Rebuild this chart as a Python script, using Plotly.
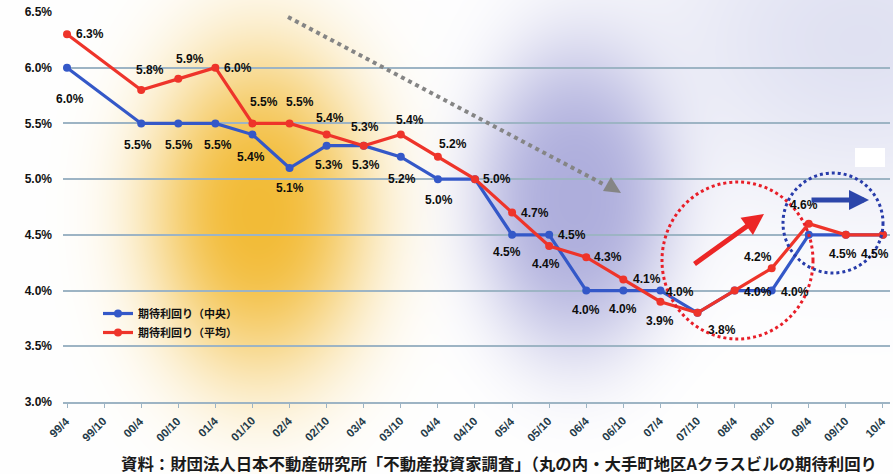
import base64
import struct
import zlib

import numpy as np
import plotly.graph_objects as go

# ---- data -----------------------------------------------------------------
periods = ["99/4", "99/10", "00/4", "00/10", "01/4", "01/10", "02/4", "02/10",
           "03/4", "03/10", "04/4", "04/10", "05/4", "05/10", "06/4", "06/10",
           "07/4", "07/10", "08/4", "08/10", "09/4", "09/10", "10/4"]

# expected yield (median), %
yield_median = [6.0, None, 5.5, 5.5, 5.5, 5.4, 5.1, 5.3, 5.3, 5.2, 5.0, 5.0,
                4.5, 4.5, 4.0, 4.0, 4.0, 3.8, 4.0, 4.0, 4.5, 4.5, 4.5]
# expected yield (mean), %
yield_mean = [6.3, None, 5.8, 5.9, 6.0, 5.5, 5.5, 5.4, 5.3, 5.4, 5.2, 5.0,
              4.7, 4.4, 4.3, 4.1, 3.9, 3.8, 4.0, 4.2, 4.6, 4.5, 4.5]

y_ticks = [3.0, 3.5, 4.0, 4.5, 5.0, 5.5, 6.0, 6.5]
y_tick_labels = [f"{v:.1f}%" for v in y_ticks]

name_median = "期待利回り（中央）"
name_mean = "期待利回り（平均）"
source_text = ("資料：財団法人日本不動産研究所「不動産投資家調査」"
               "（丸の内・大手町地区Aクラスビルの期待利回り")

# ---- label placement (pixel offsets from each point; None = no label) ------
median_label_offsets = [(3, -31), None, (-3, -22), (1, -22), (3, -22), (-1, -22),
                        (0, -20), (2, -19), (2, -19), (1, -22), (1, -21), None,
                        (-5, -17), (23, 0), (0, -19), (0, -18), (20, -1), (24, -17),
                        (23, -1), (23, -1), None, (-3, -19), (-8, -19)]
mean_label_offsets = [(23, 0), None, (9, 20), (12, 20), (23, 0), (12, 21),
                      (10, 21), (3, 17), (1, 19), (9, 15), (15, 13), (22, 0),
                      (23, 0), (-3, -18), (22, 0), (24, 0), (0, -19), None,
                      None, (-14, 11), (-5, 19), None, None]

# ---- geometry ---------------------------------------------------------------
FIG_W, FIG_H = 893, 474
M_L, M_R, M_T, M_B = 63, 3, 12, 72
PLOT_W = FIG_W - M_L - M_R
PLOT_H = FIG_H - M_T - M_B

BLUE = "rgb(52,88,200)"
RED = "rgb(238,52,42)"
GRID = "#9db4c4"


def paper(px, py):
    """Convert figure pixel coordinates to paper coordinates."""
    return (px - M_L) / PLOT_W, (FIG_H - M_B - py) / PLOT_H


# ---- soft background glow (rendered as a PNG) -------------------------------
def glow_background():
    yy, xx = np.mgrid[0:FIG_H, 0:FIG_W].astype(float)

    def blob(cx, cy, sx, sy, p=1.5):
        r2 = ((xx - cx) / sx) ** 2 + ((yy - cy) / sy) ** 2
        return np.exp(-(r2 ** p))

    img = np.full((FIG_H, FIG_W, 3), 255.0)

    def blend(base, color, alpha):
        a = alpha[..., None]
        return base * (1 - a) + np.array(color, dtype=float) * a

    img = blend(img, (214, 216, 238), 0.75 * blob(860, 40, 230, 170, 1.0))
    img = blend(img, (166, 166, 217), 0.9 * blob(574, 200, 100, 155))
    img = blend(img, (242, 184, 45), 0.95 * blob(258, 212, 112, 165, 1.3))
    return np.clip(img, 0, 255).astype(np.uint8)


def png_data_uri(arr):
    h, w, _ = arr.shape
    raw = b"".join(b"\x00" + arr[i].tobytes() for i in range(h))

    def chunk(tag, data):
        body = tag + data
        return (struct.pack(">I", len(data)) + body
                + struct.pack(">I", zlib.crc32(body) & 0xFFFFFFFF))

    png = (b"\x89PNG\r\n\x1a\n"
           + chunk(b"IHDR", struct.pack(">IIBBBBB", w, h, 8, 2, 0, 0, 0))
           + chunk(b"IDAT", zlib.compress(raw, 9))
           + chunk(b"IEND", b""))
    return "data:image/png;base64," + base64.b64encode(png).decode()


# ---- figure -----------------------------------------------------------------
fig = go.Figure()

fig.add_trace(go.Scatter(
    x=periods, y=yield_median, name=name_median, mode="lines+markers",
    connectgaps=True, line=dict(color=BLUE, width=3.2),
    marker=dict(color=BLUE, size=8), hoverinfo="skip"))
fig.add_trace(go.Scatter(
    x=periods, y=yield_mean, name=name_mean, mode="lines+markers",
    connectgaps=True, line=dict(color=RED, width=3.2),
    marker=dict(color=RED, size=8), hoverinfo="skip"))

annotations = []
label_font = dict(family="Liberation Sans, Arial", size=12, color="#0d0d0d",
                  weight="bold")
for values, offsets in ((yield_median, median_label_offsets),
                        (yield_mean, mean_label_offsets)):
    for cat, v, off in zip(periods, values, offsets):
        if v is None or off is None:
            continue
        annotations.append(dict(
            x=cat, y=v, xref="x", yref="y", text=f"{v:.1f}%", showarrow=False,
            xshift=off[0], yshift=off[1], font=label_font))

# slanted category labels under the x axis
for cat in periods:
    annotations.append(dict(
        x=cat, y=0, xref="x", yref="paper", text=cat, showarrow=False,
        textangle=-45, xanchor="right", yanchor="top", xshift=8, yshift=-10,
        font=dict(family="Liberation Sans, Arial", size=11.5, color="#243a48",
                  weight="bold")))

# trend arrows
tip_x, tip_y = paper(764, 214)
annotations.append(dict(x=tip_x, y=tip_y, xref="paper", yref="paper", text="",
                        showarrow=True, ax=-71, ay=51, arrowhead=2, arrowsize=0.85,
                        arrowwidth=5, arrowcolor="rgb(236,38,38)"))
tip_x, tip_y = paper(869, 200)
annotations.append(dict(x=tip_x, y=tip_y, xref="paper", yref="paper", text="",
                        showarrow=True, ax=-59, ay=0, arrowhead=2, arrowsize=0.8,
                        arrowwidth=5, arrowcolor="rgb(44,70,170)"))

# source note
sx, sy = paper(119, 463)
annotations.append(dict(x=sx, y=sy, xref="paper", yref="paper", text=source_text,
                        showarrow=False, xanchor="left", yanchor="middle",
                        font=dict(family="Noto Sans CJK JP", size=16.4,
                                  color="#1a1a1a", weight="bold")))

shapes = []
# long-term downward trend (dotted grey arrow)
x0, y0 = paper(288, 17)
x1, y1 = paper(603, 184)
shapes.append(dict(type="line", xref="paper", yref="paper", x0=x0, y0=y0,
                   x1=x1, y1=y1, line=dict(color="#858585", width=4, dash="dot")))
tri = [paper(621, 193), paper(603, 191), paper(611, 177)]
shapes.append(dict(type="path", xref="paper", yref="paper",
                   path="M {} {} L {} {} L {} {} Z".format(*[c for p in tri for c in p]),
                   fillcolor="#858585", line=dict(width=0)))
# highlight circles
cx0, cy0 = paper(662, 182)
cx1, cy1 = paper(813, 339)
shapes.append(dict(type="circle", xref="paper", yref="paper", x0=cx0, y0=cy0,
                   x1=cx1, y1=cy1,
                   line=dict(color="rgb(232,30,40)", width=3, dash="dot")))
cx0, cy0 = paper(783, 173)
cx1, cy1 = paper(883, 273)
shapes.append(dict(type="circle", xref="paper", yref="paper", x0=cx0, y0=cy0,
                   x1=cx1, y1=cy1,
                   line=dict(color="rgb(40,60,170)", width=3, dash="dot")))
# small white patch in the upper right
bx0, by0 = paper(855, 148)
bx1, by1 = paper(885, 167)
shapes.append(dict(type="rect", xref="paper", yref="paper", x0=bx0, y0=by0,
                   x1=bx1, y1=by1, fillcolor="white", line=dict(width=0),
                   layer="below"))

img_x, img_y = paper(0, 0)
fig.update_layout(
    width=FIG_W, height=FIG_H, autosize=False,
    margin=dict(l=M_L, r=M_R, t=M_T, b=M_B, pad=0),
    paper_bgcolor="white", plot_bgcolor="rgba(0,0,0,0)",
    images=[dict(source=png_data_uri(glow_background()), xref="paper",
                 yref="paper", x=img_x, y=img_y, sizex=FIG_W / PLOT_W,
                 sizey=FIG_H / PLOT_H, xanchor="left", yanchor="top",
                 sizing="stretch", layer="below")],
    showlegend=True,
    legend=dict(x=paper(98, 0)[0], y=paper(0, 299)[1], xanchor="left",
                yanchor="top", bgcolor="rgba(0,0,0,0)", itemwidth=30,
                font=dict(family="Noto Sans CJK JP", size=11, color="#111111",
                          weight="bold"),
                tracegroupgap=0),
    xaxis=dict(type="category", range=[-0.108, 22.19], showgrid=False,
               showline=True, linecolor=GRID, linewidth=1.5,
               ticks="outside", ticklen=4, tickcolor=GRID,
               showticklabels=False, fixedrange=True),
    yaxis=dict(range=[3.0, 6.5], tickmode="array", tickvals=y_ticks,
               ticktext=y_tick_labels, showgrid=True, gridcolor=GRID,
               gridwidth=1.5, zeroline=False, showline=False, ticks="",
               ticklabelstandoff=10,
               tickfont=dict(family="Liberation Sans, Arial", size=12,
                             color="#111111", weight="bold"),
               fixedrange=True),
    annotations=annotations,
    shapes=shapes,
)

fig.write_html("out.html")
